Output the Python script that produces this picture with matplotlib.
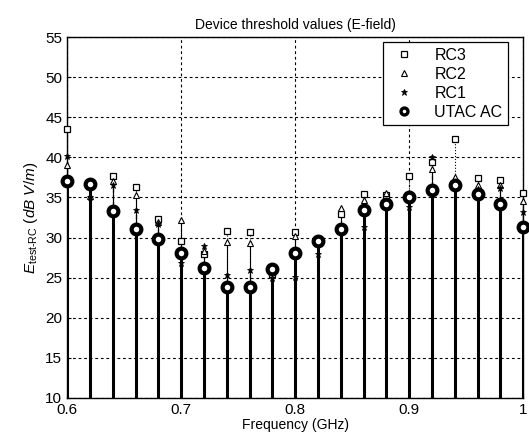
import matplotlib.pyplot as plt
from matplotlib.lines import Line2D
import numpy as np

plt.rcParams['font.family'] = ['Liberation Sans', 'DejaVu Sans']
plt.rcParams['mathtext.fontset'] = 'custom'
plt.rcParams['mathtext.rm'] = 'Liberation Sans'
plt.rcParams['mathtext.it'] = 'Liberation Sans:italic'

# frequencies (GHz), 0.6 .. 1.0
freq = [0.60, 0.62, 0.64, 0.66, 0.68, 0.70, 0.72, 0.74, 0.76, 0.78, 0.80,
        0.82, 0.84, 0.86, 0.88, 0.90, 0.92, 0.94, 0.96, 0.98, 1.00]

# threshold values (dB V/m)
rc3 = [43.5, 36.5, 37.7, 36.3, 32.3, 29.6, 28.0, 30.8, 30.7, 25.4, 30.7,
       29.8, 32.9, 35.4, 35.3, 37.7, 39.4, 42.3, 37.4, 37.2, 35.6]
rc2 = [39.0, 35.2, 37.0, 35.3, 32.0, 32.2, 28.3, 29.5, 29.3, 25.8, 30.2,
       29.3, 33.7, 34.7, 35.5, 35.5, 38.5, 37.6, 36.5, 36.5, 34.5]
rc1 = [40.2, 35.0, 36.6, 33.4, 31.7, 26.8, 29.0, 25.3, 25.9, 25.0, 25.1,
       28.0, 31.0, 31.3, 34.0, 33.8, 40.0, 36.8, 36.0, 36.2, 33.2]
utac = [37.0, 36.7, 33.3, 31.1, 29.8, 28.1, 26.2, 23.8, 23.8, 26.1, 28.1,
        29.6, 31.1, 33.4, 34.2, 35.0, 35.9, 36.5, 35.4, 34.2, 31.3]

fig = plt.figure(figsize=(5.29, 4.43), dpi=100)
ax = fig.add_axes([0.127, 0.102, 0.862, 0.814])

series = [
    (rc3, dict(marker='s', ms=5, mfc='white', mew=0.9), dict(lw=0.8, ls=':')),
    (rc2, dict(marker='^', ms=4, mfc='white', mew=0.8), dict(lw=0.8, ls='-')),
    (rc1, dict(marker='*', ms=5, mfc='black', mew=0.6), dict(lw=0.9, ls='--')),
    (utac, dict(marker='o', ms=7, mfc='white', mew=3.0), dict(lw=2.2, ls='-')),
]
for vals, mk, ln in series:
    st = ax.stem(freq, vals, bottom=10, basefmt=' ')
    plt.setp(st.stemlines, color='black', linewidth=ln['lw'], linestyle=ln['ls'])
    plt.setp(st.markerline, color='black', markeredgecolor='black', clip_on=False,
             marker=mk['marker'], markersize=mk['ms'], markerfacecolor=mk['mfc'],
             markeredgewidth=mk['mew'], zorder=4)

ax.set_xlim(0.6, 1.0)
ax.set_ylim(10, 55)
ax.set_xticks([0.6, 0.7, 0.8, 0.9, 1.0])
ax.set_xticklabels(['0.6', '0.7', '0.8', '0.9', '1'])
ax.set_yticks(np.arange(10, 56, 5))
ax.tick_params(direction='in', labelsize=11, length=3, color='black')
ax.grid(True, color='black', linestyle=(0, (2.5, 2.5)), linewidth=0.8)
ax.set_axisbelow(True)
for s in ax.spines.values():
    s.set_linewidth(1.0)

ax.set_title('Device threshold values (E-field)', fontsize=10, pad=6)
ax.set_xlabel('Frequency (GHz)', fontsize=10, labelpad=1)
ax.set_ylabel(r'$E_{\mathrm{test}\text{-}\mathrm{RC}}\ \mathit{(dB\ V/m)}$', fontsize=11, labelpad=4)

handles = [
    Line2D([], [], ls='none', color='black', marker='s', ms=5, mfc='white', mew=0.9),
    Line2D([], [], ls='none', color='black', marker='^', ms=4, mfc='white', mew=0.8),
    Line2D([], [], ls='none', color='black', marker='*', ms=5, mfc='black', mew=0.6),
    Line2D([], [], ls='none', color='black', marker='o', ms=5, mfc='white', mew=2.4),
]
leg = ax.legend(handles, ['RC3', 'RC2', 'RC1', 'UTAC AC'], loc='upper right',
                bbox_to_anchor=(0.967, 0.986), fontsize=11.5, frameon=True,
                fancybox=False, framealpha=1, edgecolor='black', borderaxespad=0,
                handlelength=2.0, labelspacing=0.25, borderpad=0.35,
                handletextpad=0.9)
leg.get_frame().set_linewidth(0.9)

fig.savefig('out.png', dpi=100)
